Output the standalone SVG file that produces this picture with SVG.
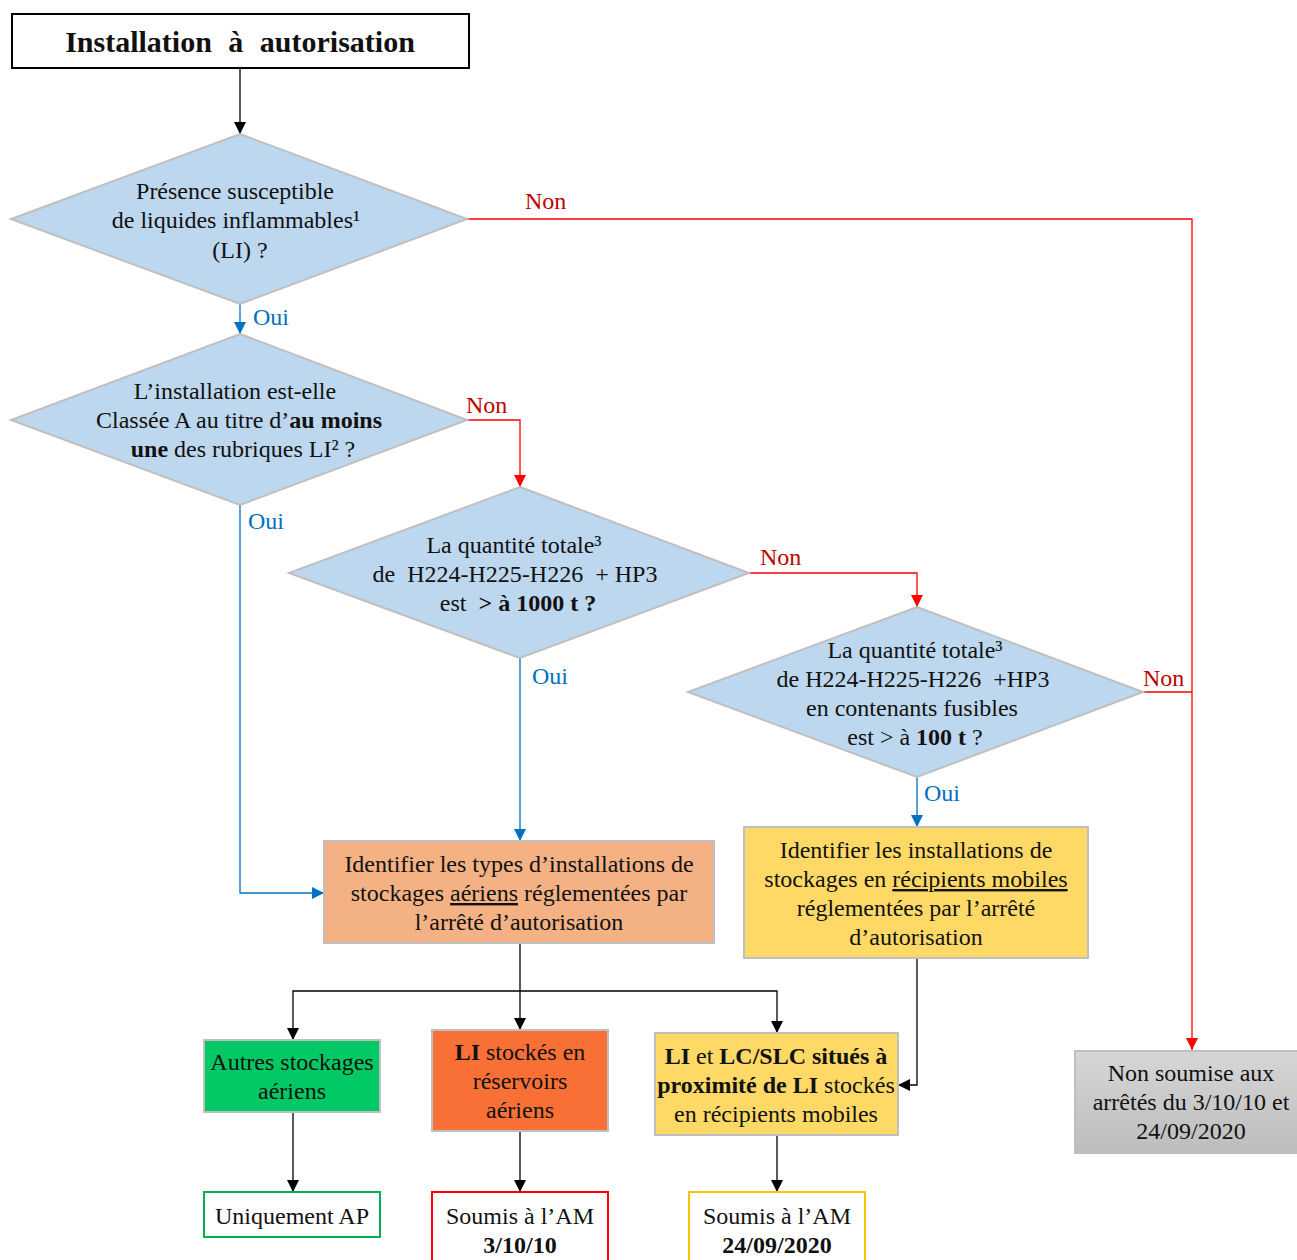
<svg xmlns="http://www.w3.org/2000/svg" width="1297" height="1260" viewBox="0 0 1297 1260">
<defs>
<style>
text{font-family:"Liberation Serif","Times New Roman",serif;font-size:24px;fill:#111;text-anchor:middle}
.b{font-weight:bold}
.u{text-decoration:underline}
.dia{fill:#BDD7EE;stroke:#BFBFBF;stroke-width:2}
.box{stroke:#BFBFBF;stroke-width:2}
.non{fill:#C00000;text-anchor:start}
.oui{fill:#0070C0;text-anchor:start}
.lk{fill:none;stroke:#000;stroke-width:1.3}
.lr{fill:none;stroke:#FF0000;stroke-width:1.3}
.lb{fill:none;stroke:#0070C0;stroke-width:1.3}
</style>
<marker id="ak" markerUnits="userSpaceOnUse" markerWidth="12" markerHeight="12" viewBox="0 0 12 12" refX="12" refY="6" orient="auto"><path d="M0,0 L12,6 L0,12 Z" fill="#000"/></marker>
<marker id="ar" markerUnits="userSpaceOnUse" markerWidth="12" markerHeight="12" viewBox="0 0 12 12" refX="12" refY="6" orient="auto"><path d="M0,0 L12,6 L0,12 Z" fill="#FF0000"/></marker>
<marker id="ab" markerUnits="userSpaceOnUse" markerWidth="12" markerHeight="12" viewBox="0 0 12 12" refX="12" refY="6" orient="auto"><path d="M0,0 L12,6 L0,12 Z" fill="#0070C0"/></marker>
<linearGradient id="gg" x1="0" y1="0" x2="0" y2="1"><stop offset="0" stop-color="#D6D6D6"/><stop offset="1" stop-color="#BDBDBD"/></linearGradient>
</defs>
<rect width="1297" height="1260" fill="#fff"/>

<g id="connectors">
<path class="lk" d="M240,68 V134" marker-end="url(#ak)"/>
<path class="lr" d="M467,219 H1192 V1050" marker-end="url(#ar)"/>
<text class="non" x="525" y="209">Non</text>
<path class="lb" d="M240,304 V334" marker-end="url(#ab)"/>
<text class="oui" x="253" y="325">Oui</text>
<path class="lr" d="M467,420 H520 V487" marker-end="url(#ar)"/>
<text class="non" x="466" y="413">Non</text>
<path class="lb" d="M240,505 V893 H324" marker-end="url(#ab)"/>
<text class="oui" x="248" y="529">Oui</text>
<path class="lr" d="M749,573 H917 V607" marker-end="url(#ar)"/>
<text class="non" x="760" y="565">Non</text>
<path class="lb" d="M520,658 V841" marker-end="url(#ab)"/>
<text class="oui" x="532" y="684">Oui</text>
<path class="lr" d="M1143,692 H1192"/>
<text class="non" x="1143" y="686">Non</text>
<path class="lb" d="M917,777 V827" marker-end="url(#ab)"/>
<text class="oui" x="924" y="801">Oui</text>
<path class="lk" d="M520,943 V1030" marker-end="url(#ak)"/>
<path class="lk" d="M520,991 H293 V1040" marker-end="url(#ak)"/>
<path class="lk" d="M520,991 H777 V1033" marker-end="url(#ak)"/>
<path class="lk" d="M917,958 V1085 H898" marker-end="url(#ak)"/>
<path class="lk" d="M293,1112 V1192" marker-end="url(#ak)"/>
<path class="lk" d="M520,1131 V1192" marker-end="url(#ak)"/>
<path class="lk" d="M777,1135 V1192" marker-end="url(#ak)"/>
</g>

<g id="start">
<rect x="12" y="14" width="457" height="54" fill="#fff" stroke="#000" stroke-width="2"/>
<text x="240" y="52" class="b" style="font-size:30px;word-spacing:9px">Installation à autorisation</text>
</g>

<g id="q1">
<polygon class="dia" points="240,134 467,219 240,304 11,219"/>
<text x="235" y="199">Présence susceptible</text>
<text x="236" y="228">de liquides inflammables¹</text>
<text x="240" y="258">(LI) ?</text>
</g>

<g id="q2">
<polygon class="dia" points="240,334 467,420 240,505 11,420"/>
<text x="235" y="399">L’installation est-elle</text>
<text x="239" y="428">Classée A au titre d’<tspan class="b">au moins</tspan></text>
<text x="243" y="457"><tspan class="b">une</tspan> des rubriques LI² ?</text>
</g>

<g id="q3">
<polygon class="dia" points="520,487 749,573 520,658 289,573"/>
<text x="514" y="553">La quantité totale³</text>
<text x="515" y="582">de&#160; H224-H225-H226&#160; + HP3</text>
<text x="518" y="611">est&#160; <tspan class="b">&gt; à 1000 t ?</tspan></text>
</g>

<g id="q4">
<polygon class="dia" points="917,607 1143,692 917,777 688,692"/>
<text x="915" y="658">La quantité totale³</text>
<text x="913" y="687">de H224-H225-H226&#160; +HP3</text>
<text x="912" y="716">en contenants fusibles</text>
<text x="915" y="745">est &gt; à <tspan class="b">100 t</tspan> ?</text>
</g>

<g id="aeriens">
<rect class="box" x="324" y="841" width="390" height="102" fill="#F4B183"/>
<text x="519" y="872">Identifier les types d’installations de</text>
<text x="519" y="901">stockages <tspan class="u">aériens</tspan> réglementées par</text>
<text x="519" y="930">l’arrêté d’autorisation</text>
</g>

<g id="mobiles">
<rect class="box" x="744" y="827" width="344" height="131" fill="#FFD966"/>
<text x="916" y="858">Identifier les installations de</text>
<text x="916" y="887">stockages en <tspan class="u">récipients mobiles</tspan></text>
<text x="916" y="916">réglementées par l’arrêté</text>
<text x="916" y="945">d’autorisation</text>
</g>

<g id="autres">
<rect class="box" x="204" y="1040" width="176" height="72" fill="#00C864"/>
<text x="292" y="1070">Autres stockages</text>
<text x="292" y="1099">aériens</text>
</g>

<g id="reservoirs">
<rect class="box" x="432" y="1030" width="176" height="101" fill="#F87036"/>
<text x="520" y="1060"><tspan class="b">LI</tspan> stockés en</text>
<text x="520" y="1089">réservoirs</text>
<text x="520" y="1118">aériens</text>
</g>

<g id="proximite">
<rect class="box" x="655" y="1033" width="243" height="102" fill="#FFD966"/>
<text x="776" y="1064"><tspan class="b">LI</tspan> et <tspan class="b">LC/SLC situés à</tspan></text>
<text x="776" y="1093"><tspan class="b">proximité de LI</tspan> stockés</text>
<text x="776" y="1122">en récipients mobiles</text>
</g>

<g id="nonsoumise">
<rect x="1075" y="1051" width="224" height="102" fill="url(#gg)" stroke="#BFBFBF" stroke-width="2"/>
<text x="1191" y="1081">Non soumise aux</text>
<text x="1191" y="1110">arrêtés du 3/10/10 et</text>
<text x="1191" y="1139">24/09/2020</text>
</g>

<g id="ap">
<rect x="204" y="1192" width="176" height="45" fill="#fff" stroke="#00B050" stroke-width="2"/>
<text x="292" y="1224">Uniquement AP</text>
</g>

<g id="am1">
<rect x="432" y="1192" width="176" height="90" fill="#fff" stroke="#FF0000" stroke-width="2"/>
<text x="520" y="1224">Soumis à l’AM</text>
<text x="520" y="1253" class="b">3/10/10</text>
</g>

<g id="am2">
<rect x="689" y="1192" width="176" height="90" fill="#fff" stroke="#FFC000" stroke-width="2"/>
<text x="777" y="1224">Soumis à l’AM</text>
<text x="777" y="1253" class="b">24/09/2020</text>
</g>
</svg>
